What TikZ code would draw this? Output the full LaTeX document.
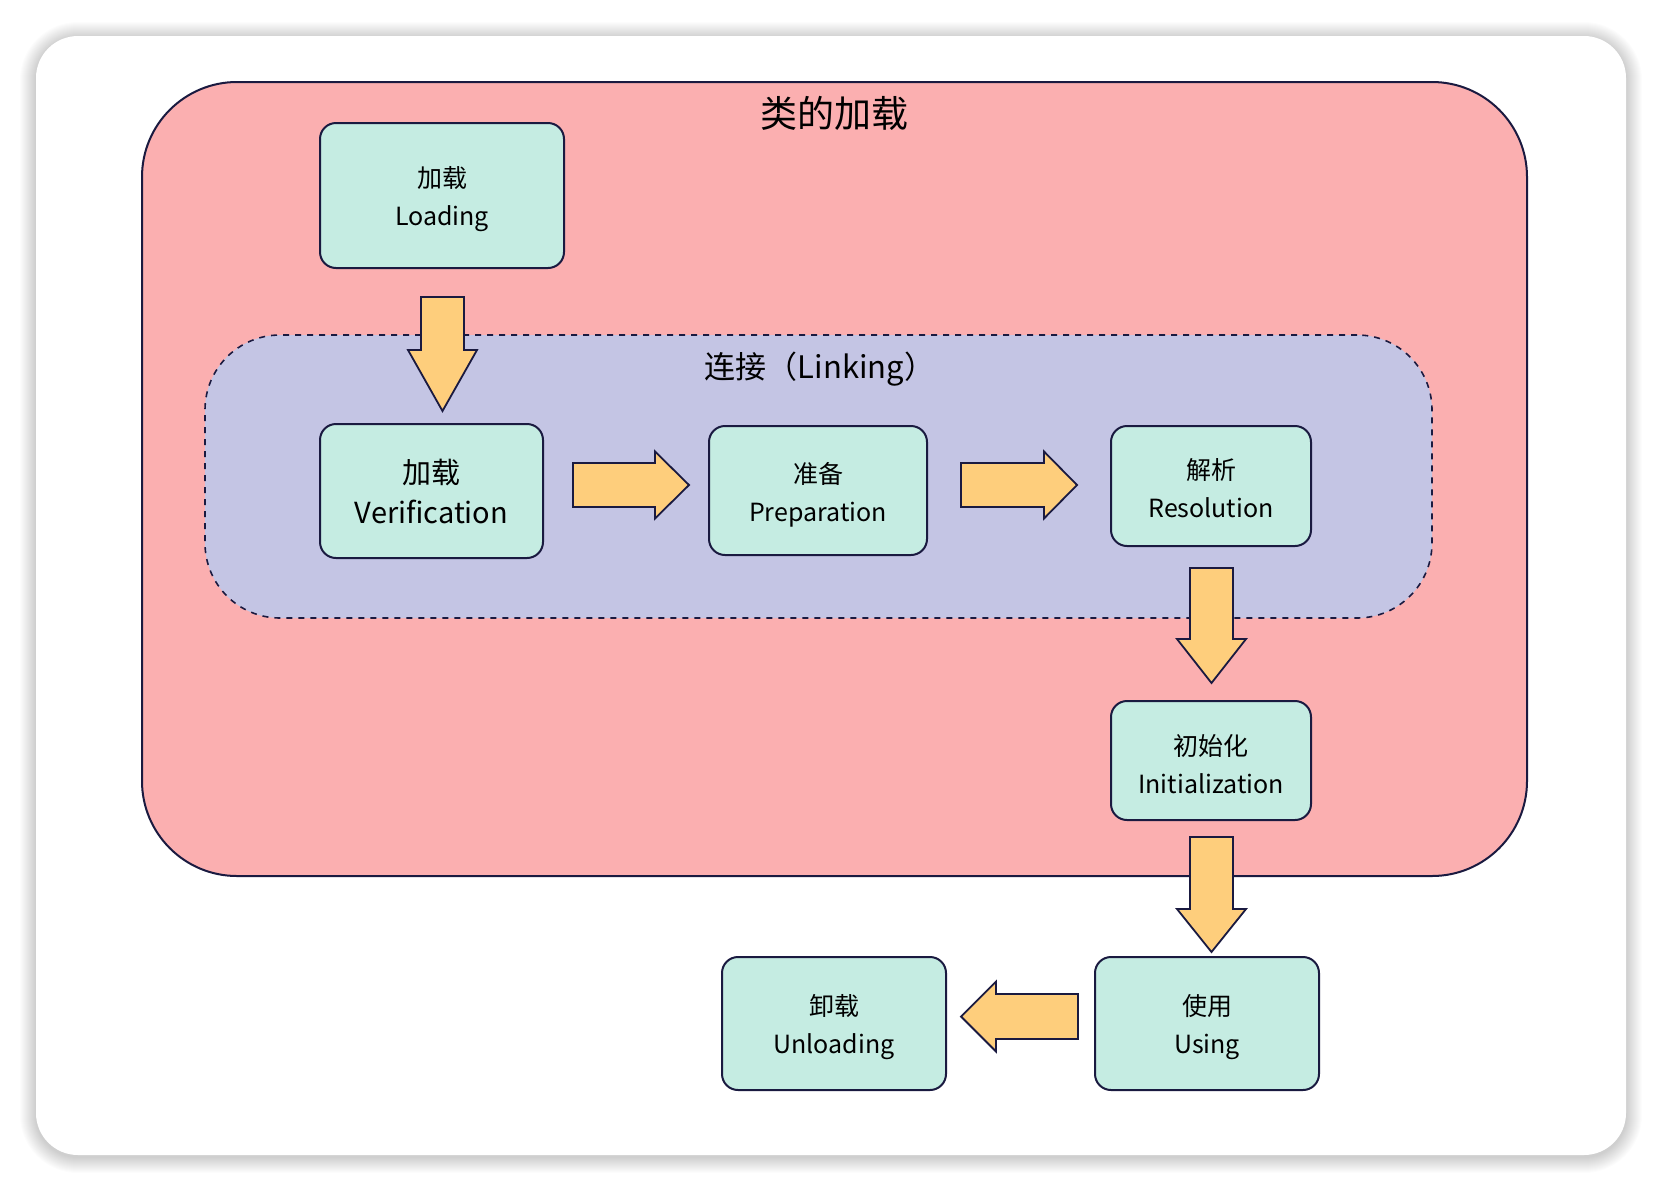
\documentclass[tikz,border=0pt]{standalone}
\usepackage{fontspec}
\setmainfont{Noto Sans CJK SC}
\usetikzlibrary{positioning}
\definecolor{pinkfill}{HTML}{FBAFB0}
\definecolor{linkfill}{HTML}{C4C5E4}
\definecolor{boxfill}{HTML}{C5ECE2}
\definecolor{arrfill}{HTML}{FECE7C}
\definecolor{ink}{HTML}{1A1A40}
\newcommand\myDownArrow[4]{% cx, top, headstart, tip
  \draw[blockarrow] (#1-21.5,#2) -- (#1+21.5,#2) -- (#1+21.5,#3) -- (#1+34.5,#3) -- (#1,#4) -- (#1-34.5,#3) -- (#1-21.5,#3) -- cycle;}
\newcommand\myRightArrow[4]{% cy, start, headbase, tip
  \draw[blockarrow] (#2,#1-22) -- (#3,#1-22) -- (#3,#1-33.5) -- (#4,#1) -- (#3,#1+33.5) -- (#3,#1+22) -- (#2,#1+22) -- cycle;}
\newcommand\myLeftArrow[4]{% cy, start(right), headbase, tip
  \draw[blockarrow] (#2,#1-22.5) -- (#3,#1-22.5) -- (#3,#1-35) -- (#4,#1) -- (#3,#1+35) -- (#3,#1+22.5) -- (#2,#1+22.5) -- cycle;}
\begin{document}
\begin{tikzpicture}[x=1pt,y=-1pt,
  stage/.style={draw=ink, line width=2pt, fill=boxfill, rounded corners=16pt, inner sep=0pt},
  stagetext/.style={align=center, font=\fontsize{25}{38}\selectfont, inner sep=0pt, yshift=-4pt},
  blockarrow/.style={draw=ink, line width=1.8pt, fill=arrfill, line join=miter},
]
\useasboundingbox (0,0) rectangle (1662,1192);
\fill[white] (0,0) rectangle (1662,1192);
% card shadow
\foreach \i in {1,...,16}{
  \fill[black, opacity=0.013, rounded corners=42+\i] (36-\i,36-\i+2) rectangle (1626+\i,1155+\i+2);
}
\fill[white, rounded corners=42pt] (36,36) rectangle (1626,1155);
% outer pink container
\node[draw=ink, line width=2pt, fill=pinkfill, rounded corners=95pt, minimum width=1385pt, minimum height=794pt, inner sep=0pt] (outer) at (834.5,479) {};
\node[font=\fontsize{37}{40}\selectfont] (title) at (834,113) {类的加载};
% linking container
\node[draw=ink, line width=1.6pt, dashed, dash pattern=on 6pt off 6pt, fill=linkfill, rounded corners=75pt, minimum width=1227pt, minimum height=283pt, inner sep=0pt] (linking) at (818.5,476.5) {};
\node[font=\fontsize{31}{36}\selectfont] (linktitle) at (820,369) {连接（Linking）};
% stages
\node[stage, minimum width=244pt, minimum height=145pt] (loading) at (442,195.5) {};
\node[stagetext] (loading-t) at (loading.center) {加载\\Loading};
\node[stage, minimum width=223pt, minimum height=134pt] (verif) at (431.5,491) {};
\node[stagetext, font=\fontsize{29}{40}\selectfont, yshift=4pt] (verif-t) at (verif.center) {加载\\Verification};
\node[stage, minimum width=218pt, minimum height=129pt] (prep) at (818,490.5) {};
\node[stagetext] (prep-t) at (prep.center) {准备\\Preparation};
\node[stage, minimum width=200pt, minimum height=120pt] (resol) at (1211,486) {};
\node[stagetext, yshift=2pt] (resol-t) at (resol.center) {解析\\Resolution};
\node[stage, minimum width=200pt, minimum height=119pt] (init) at (1211,760.5) {};
\node[stagetext] (init-t) at (init.center) {初始化\\Initialization};
\node[stage, minimum width=224pt, minimum height=133pt] (using) at (1207,1023.5) {};
\node[stagetext] (using-t) at (using.center) {使用\\Using};
\node[stage, minimum width=224pt, minimum height=133pt] (unload) at (834,1023.5) {};
\node[stagetext] (unload-t) at (unload.center) {卸载\\Unloading};
% block arrows
\myDownArrow{442.5}{297}{350}{411}
\myRightArrow{485}{573}{655}{689}
\myRightArrow{485}{961}{1044}{1077}
\myDownArrow{1211.5}{568}{639}{683}
\myDownArrow{1211.5}{837}{909}{952}
\myLeftArrow{1016.5}{1078}{996}{961}
\end{tikzpicture}
\end{document}
